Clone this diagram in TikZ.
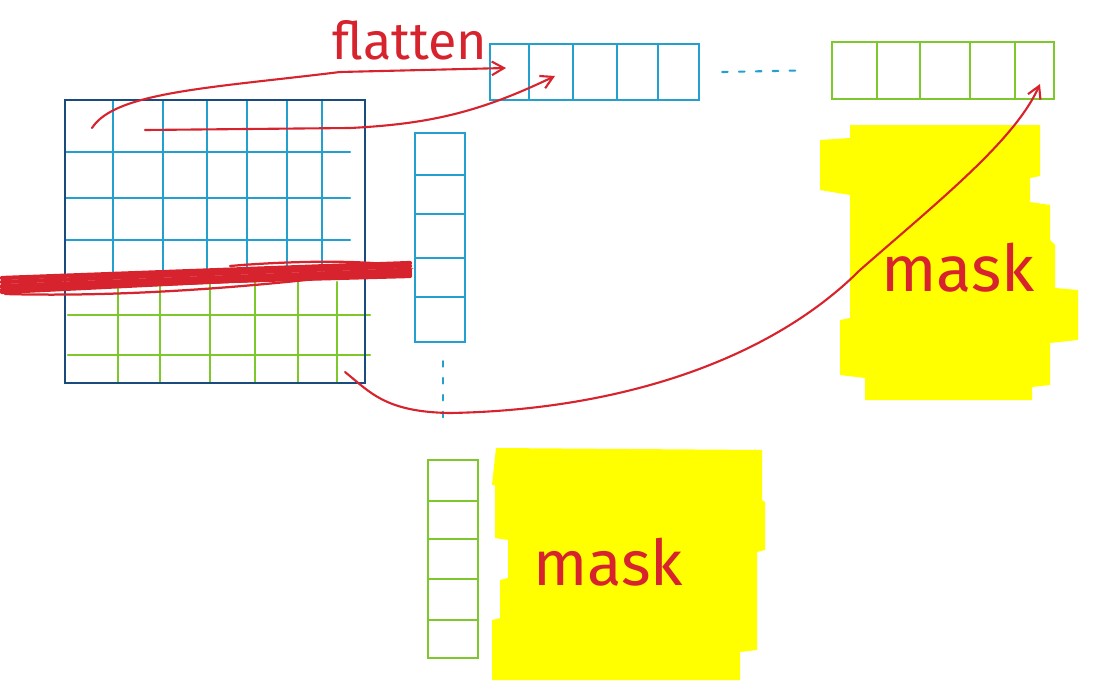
\documentclass[tikz,border=0pt]{standalone}
\usepackage{fontspec}
\setmainfont{Fira Sans}
\usetikzlibrary{arrows.meta,calc}
\definecolor{penblue}{RGB}{35,160,205}
\definecolor{pendark}{RGB}{25,75,125}
\definecolor{pengreen}{RGB}{125,200,45}
\definecolor{penred}{RGB}{215,35,45}
\definecolor{marker}{RGB}{255,255,0}

\begin{document}
\begin{tikzpicture}[x=0.025cm,y=-0.025cm,line width=1.5pt,line cap=round,
  >={Straight Barb[length=3mm,width=3.4mm]}]
  \useasboundingbox (0,0) rectangle (1113,691);
  % marcador amarillo (mask) derecha
  \fill[marker] (850,125)--(1040,125)--(1040,176)--(1030,178)--(1030,202)--(1050,205)
    --(1050,240)--(1055,245)--(1055,288)--(1078,290)--(1078,340)--(1050,343)--(1050,385)
    --(1032,387)--(1032,400)--(865,400)--(865,378)--(840,375)--(840,320)--(850,318)
    --(850,195)--(820,190)--(820,140)--(850,138)--cycle;
  % marcador amarillo (mask) abajo
  \fill[marker] (496,448)--(762,450)--(762,500)--(765,502)--(765,550)--(757,552)--(757,650)
    --(740,652)--(740,680)--(492,680)--(492,620)--(500,618)--(500,580)--(508,578)
    --(508,540)--(495,538)--(495,485)--(492,485)--cycle;
  % imagen (rejilla): parte azul arriba, parte verde abajo
  \foreach \x in {113,163,207,247,287,322} \draw[penblue] (\x,100)--(\x,272);
  \foreach \y in {152,198,240} \draw[penblue] (66,\y)--(350,\y);
  \foreach \x in {118,160,210,255,298,337} \draw[pengreen] (\x,282)--(\x,383);
  \foreach \y in {315,355} \draw[pengreen] (68,\y)--(370,\y);
  \node[draw=pendark,minimum width=7.5cm,minimum height=7.075cm] (img) at (215,241.5) {};
  % vector fila azul (flatten)
  \node[draw=penblue,minimum width=5.225cm,minimum height=1.4cm] (rowvec) at (594.5,72) {};
  \foreach \x in {529,573,617,658} \draw[penblue] (\x,44)--(\x,100);
  % vector fila verde
  \node[draw=pengreen,minimum width=5.55cm,minimum height=1.425cm] (greenrow) at (943,70.5) {};
  \foreach \x in {877,920,970,1015} \draw[pengreen] (\x,42)--(\x,99);
  \draw[penblue,dash pattern=on 4pt off 8pt] ($(rowvec.east)+(22,0)$)--($(greenrow.west)+(-32,0)$);
  % vector columna azul
  \node[draw=penblue,minimum width=1.25cm,minimum height=5.225cm] (colvec) at (440,237.5) {};
  \foreach \y in {175,214,258,297} \draw[penblue] (415,\y)--(465,\y);
  \draw[penblue,dash pattern=on 4pt off 8pt] ($(colvec.south)+(3,18)$)--($(colvec.south)+(3,78)$);
  % vector columna verde
  \node[draw=pengreen,minimum width=1.25cm,minimum height=4.95cm] (greencol) at (453,559) {};
  \foreach \y in {501,539,579,620} \draw[pengreen] (428,\y)--(478,\y);
  % texto
  \node[penred,font=\fontsize{37}{40}\selectfont] (flat) at (410,40) {flatten};
  \node[penred,font=\fontsize{46}{50}\selectfont] (masktop) at (958,268) {mask};
  \node[penred,font=\fontsize{45}{50}\selectfont] (maskbot) at (608,562) {mask};
  % tachado rojo de la fila
  \foreach \a/\b in {290/274,286/270,282/266,278/263,287/276,292/272}
    \draw[penred,line width=3pt] (2,\a)--(410,\b);
  \draw[penred,line width=1.6pt] (5,294) .. controls (150,298) and (300,282) .. (408,268)
    .. controls (380,260) and (300,260) .. (230,266);
  % flechas rojas
  \coordinate (s1) at (92,128);
  \coordinate (s2) at (145,130);
  \coordinate (s3) at (345,372);
  \coordinate (t1) at (506,68);
  \coordinate (t2) at (555,76);
  \coordinate (t3) at (1040,84);
  \draw[penred,->] (s1) .. controls (115,92) and (210,88) .. (340,72) -- (t1);
  \draw[penred,->] (s2) -- (350,128) .. controls (430,124) and (480,112) .. (t2);
  \draw[penred,->] (s3) .. controls (370,392) and (385,412) .. (450,413)
    .. controls (620,410) and (770,360) .. (860,270)
    .. controls (940,200) and (1015,140) .. (t3);
\end{tikzpicture}
\end{document}
